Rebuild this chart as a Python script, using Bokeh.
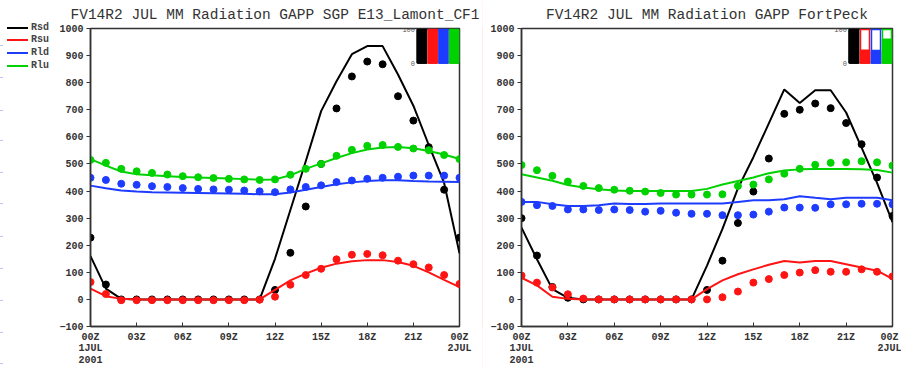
from bokeh.plotting import figure
from bokeh.models import Range1d, FixedTicker, Title, Div
from bokeh.layouts import row
from bokeh.embed import file_html
from bokeh.resources import INLINE
from bokeh.core.properties import value

hours = list(range(25))
series_names = ["Rsd", "Rsu", "Rld", "Rlu"]
series_colors = ["#000000", "#ff1414", "#1e3cff", "#00d200"]

y_ticks = [-100, 0, 100, 200, 300, 400, 500, 600, 700, 800, 900, 1000]
x_ticks = [0, 3, 6, 9, 12, 15, 18, 21, 24]
x_tick_labels = ["00Z\n1JUL\n2001", "03Z", "06Z", "09Z", "12Z", "15Z", "18Z", "21Z", "00Z\n2JUL"]

title_left = "FV14R2 JUL MM Radiation GAPP SGP E13_Lamont_CF1"
title_right = "FV14R2 JUL MM Radiation GAPP FortPeck"

# --- SGP E13 Lamont (left) ---
mod_rsd_L = [160, 40, 2, 0, 0, 0, 0, 0, 0, 0, 0, 0, 150, 330, 510, 695, 805, 905, 935, 935, 830, 715, 570, 430, 170]
obs_rsd_L = [228, 55, 0, 0, 0, 0, 0, 0, 0, 0, 0, 0, 35, 172, 343, 500, 705, 823, 878, 868, 750, 660, 562, 405, 228]
mod_rsu_L = [40, 12, 2, 0, 0, 0, 0, 0, 0, 0, 0, 0, 35, 70, 95, 117, 132, 141, 145, 145, 138, 124, 100, 72, 45]
obs_rsu_L = [64, 20, -3, -3, -3, -3, -3, -3, -3, -3, -3, -1, 10, 54, 90, 113, 148, 165, 168, 163, 143, 130, 118, 90, 57]
mod_rld_L = [420, 410, 402, 398, 396, 395, 394, 393, 392, 391, 390, 388, 388, 395, 405, 415, 425, 432, 437, 440, 440, 437, 435, 434, 433]
obs_rld_L = [449, 441, 427, 423, 418, 415, 411, 408, 406, 405, 402, 399, 396, 406, 415, 421, 433, 439, 445, 449, 453, 457, 457, 457, 449]
mod_rlu_L = [518, 494, 472, 462, 458, 455, 452, 450, 448, 446, 444, 442, 443, 458, 482, 502, 522, 540, 553, 561, 563, 558, 548, 535, 518]
obs_rlu_L = [515, 504, 482, 473, 467, 461, 455, 451, 448, 445, 443, 441, 443, 460, 482, 500, 530, 552, 567, 570, 563, 557, 551, 533, 518]
avail_L = [100, 100, 100, 100]

# --- FortPeck (right) ---
mod_rsd_R = [265, 148, 38, 6, 0, 0, 0, 0, 0, 0, 0, 0, 125, 260, 410, 525, 650, 775, 725, 772, 772, 690, 560, 430, 285]
obs_rsd_R = [300, 162, 46, 6, 0, 0, 0, 0, 0, 0, 0, 0, 35, 143, 282, 398, 520, 685, 700, 723, 706, 651, 573, 450, 308]
mod_rsu_R = [80, 52, 10, 2, 0, 0, 0, 0, 0, 0, 0, 0, 38, 70, 93, 111, 128, 142, 136, 142, 142, 130, 118, 106, 76]
obs_rsu_R = [88, 62, 44, 19, 3, 0, 0, 0, 0, 0, 0, 0, 0, 8, 29, 62, 75, 90, 99, 108, 102, 102, 111, 102, 85]
mod_rld_R = [360, 360, 351, 345, 345, 348, 354, 352, 352, 354, 354, 354, 354, 354, 360, 366, 366, 370, 381, 375, 370, 375, 375, 375, 366]
obs_rld_R = [360, 348, 345, 332, 332, 330, 332, 330, 324, 327, 320, 316, 316, 311, 311, 313, 324, 339, 339, 338, 351, 351, 353, 353, 351]
mod_rlu_R = [462, 450, 438, 422, 413, 407, 402, 400, 400, 400, 400, 400, 408, 424, 437, 450, 466, 476, 480, 481, 481, 481, 480, 478, 468]
obs_rlu_R = [496, 477, 456, 435, 419, 411, 405, 401, 398, 393, 387, 387, 387, 388, 419, 424, 443, 464, 482, 497, 504, 506, 510, 506, 494]
avail_R = [100, 38, 37, 71]

TXT = "#333333"
MONO = "Liberation Mono"


def panel(width, b_left, b_right, title, models, obs, avail, inset_x_start):
    p = figure(width=width, height=368, x_range=Range1d(0, 24), y_range=Range1d(-100, 1000),
               output_backend="svg", toolbar_location=None,
               min_border_left=b_left, min_border_right=b_right,
               min_border_top=27, min_border_bottom=39)
    p.grid.visible = False
    p.outline_line_color = "#333333"
    p.outline_line_width = 1.5
    p.background_fill_color = "white"
    p.border_fill_color = "white"

    ya = p.yaxis[0]
    ya.ticker = FixedTicker(ticks=y_ticks)
    ya.major_tick_out = 4
    ya.major_tick_in = 0
    ya.minor_tick_out = 0
    ya.minor_tick_in = 0
    ya.major_label_standoff = 3
    ya.axis_line_color = "#333333"
    ya.axis_line_width = 1.5
    ya.major_tick_line_color = "#333333"
    ya.major_label_text_font = MONO
    ya.major_label_text_font_size = "10px"
    ya.major_label_text_font_style = "bold"
    ya.major_label_text_color = TXT

    xa = p.xaxis[0]
    xa.ticker = FixedTicker(ticks=x_ticks)
    xa.major_label_overrides = {t: s for t, s in zip(x_ticks, x_tick_labels)}
    xa.major_tick_out = 0
    xa.major_tick_in = 4
    xa.minor_tick_out = 0
    xa.minor_tick_in = 0
    xa.major_label_standoff = 5
    xa.axis_line_color = "#333333"
    xa.axis_line_width = 1.5
    xa.major_tick_line_color = "#333333"
    xa.major_label_text_font = MONO
    xa.major_label_text_font_size = "10px"
    xa.major_label_text_font_style = "bold"
    xa.major_label_text_color = TXT
    xa.major_label_text_line_height = 1.05

    for m, o, c in zip(models, obs, series_colors):
        p.line(hours, m, line_color=c, line_width=2)
        p.scatter(hours, o, size=7, fill_color=c, line_color=c)

    # availability inset (0-100 %)
    p.extra_x_ranges = {"bx": Range1d(inset_x_start, 4)}
    p.extra_y_ranges = {"by": Range1d(-785.3, 102.9)}
    bx = [0.5, 1.5, 2.5, 3.5]
    p.quad(left=[0], right=[4], bottom=[0], top=[100], fill_color=None, line_color="#555555",
           line_width=1, x_range_name="bx", y_range_name="by")
    p.vbar(x=bx, width=0.82, bottom=0, top=[100] * 4, fill_color="white", line_color=series_colors,
           line_width=1.5, x_range_name="bx", y_range_name="by")
    p.vbar(x=bx, width=0.82, bottom=0, top=avail, fill_color=series_colors, line_color=series_colors,
           line_width=1.5, x_range_name="bx", y_range_name="by")
    p.text(x=[-0.15, -0.15], y=[100, 0], text=["100", "0"], text_align="right", text_baseline="middle",
           text_font=value(MONO), text_font_size="7px", text_color="#555555",
           x_range_name="bx", y_range_name="by")

    t = Title(text=title, align="center", vertical_align="middle", text_font=MONO,
              text_font_size="14.5px", text_font_style="normal", text_color=TXT, standoff=10)
    p.add_layout(t, "above")
    return p


left = panel(426, 33, 23, title_left,
             [mod_rsd_L, mod_rsu_L, mod_rld_L, mod_rlu_L],
             [obs_rsd_L, obs_rsu_L, obs_rld_L, obs_rlu_L], avail_L, -30.42)
right = panel(418, 38, 9, title_right,
              [mod_rsd_R, mod_rsu_R, mod_rld_R, mod_rlu_R],
              [obs_rsd_R, obs_rsu_R, obs_rld_R, obs_rlu_R], avail_R, -29.73)

# legend strip at the far left (HTML, so nothing is clipped by a plot frame)
leg_y = [28, 40, 53, 66]
edge_y = [45, 77, 110, 140, 172, 203, 236, 268, 300, 332, 363]
parts = []
for name, col, y in zip(series_names, series_colors, leg_y):
    parts.append(f'<div style="position:absolute;left:7px;top:{y - 1}px;width:21px;height:2px;background:{col}"></div>')
    parts.append(f'<div style="position:absolute;left:31px;top:{y - 6}px;line-height:12px;height:12px;'
                 f'font-family:\'{MONO}\';font-size:10px;font-weight:bold;color:#444444">{name}</div>')
for y in edge_y:
    parts.append(f'<div style="position:absolute;left:0px;top:{y}px;width:3px;height:1px;background:#b8c4ff"></div>')
leg = Div(text='<div style="position:relative;width:56px;height:368px;margin:0;padding:0;background:white">'
          + "".join(parts) + "</div>",
          width=56, height=368, margin=0, styles={"padding": "0px", "margin": "0px", "overflow": "hidden"})

sep = figure(width=1, height=368, output_backend="svg", toolbar_location=None,
             x_axis_type=None, y_axis_type=None, min_border=0)
sep.grid.visible = False
sep.outline_line_color = None
sep.background_fill_color = "#ffd6d6"
sep.border_fill_color = "#ffd6d6"

p = row(leg, left, sep, right, spacing=0)

open("out.html", "w").write(file_html(p, INLINE))
